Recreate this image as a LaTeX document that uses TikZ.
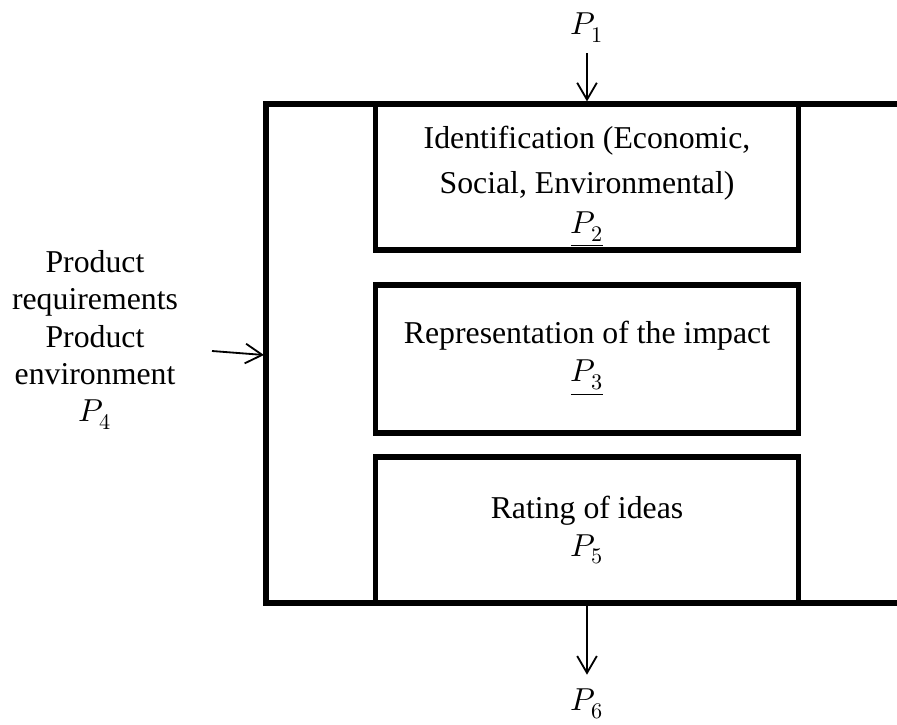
\documentclass[tikz,border=0pt]{standalone}
\usepackage{fontspec}
\usepackage{unicode-math}
\setmainfont{Liberation Serif}
\setmathfont{Latin Modern Math}
\usetikzlibrary{positioning, arrows.meta}

\begin{document}
\begin{tikzpicture}[
    x=0.025cm, y=-0.025cm,
    stage/.style={draw, line width=3.6pt, minimum width=10.55cm, minimum height=3.65cm,
        align=center, inner sep=0pt, font=\fontsize{22.6}{32}\selectfont},
    lbl/.style={inner sep=0pt, font=\fontsize{22.6}{32}\selectfont},
    flow/.style={-{Straight Barb[length=12pt,width=14pt]}, line width=1.3pt}
]
\useasboundingbox (0,0) rectangle (897,725);

% frame, open on the right
\draw[line width=3.6pt] (897,104) -- (266,104) -- (266,603) -- (897,603);

\node[stage] (ident) at (587,177) {\rule{0pt}{30pt}Identification (Economic,\\Social, Environmental)\\[-4pt]\underline{$P_2$}};
\node[stage, minimum height=3.7cm] (impact) at (587,359) {Representation of the impact\\[-5pt]\underline{$P_3$}};
\node[stage] (rating) at (587,530) {Rating of ideas\\[-5pt]$P_5$};

\node[lbl] (p1) at (587,28) {$P_1$};
\node[lbl] (p6) at (587,704) {$P_6$};
\node[lbl, align=center, font=\fontsize{22.6}{26.5}\selectfont] (req) at (95,340)
    {Product\\requirements\\Product\\environment\\$P_4$};

\coordinate (src) at (212,351);
\coordinate (inlet) at (264,355);

\draw[flow, shorten <=0.25cm] (p1.south) -- (ident.north);
\draw[flow, shorten >=0.35cm] (rating.south) -- (p6.north);
\draw[flow] (src) -- (inlet);
\end{tikzpicture}
\end{document}
